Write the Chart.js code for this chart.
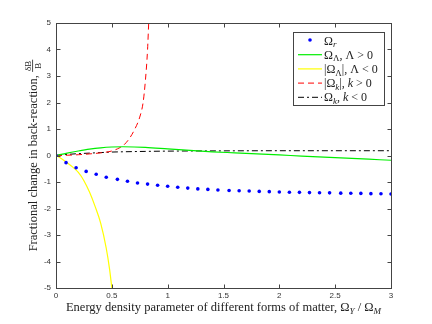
<!DOCTYPE html>
<html>
<head>
<meta charset="utf-8">
<script src="https://cdn.jsdelivr.net/npm/chart.js@4.4.1/dist/chart.umd.min.js"></script>
<style>
  html, body { margin: 0; padding: 0; background: #fff; }
</style>
</head>
<body>
<canvas id="chart" width="432" height="324"></canvas>
<script>
// Omega_r (blue dots)
const radX = [0, 0.09, 0.18, 0.27, 0.36, 0.45, 0.55, 0.64, 0.73, 0.82, 0.91, 1.0, 1.09, 1.18, 1.27, 1.36, 1.45,
  1.55, 1.64, 1.73, 1.82, 1.91, 2.0, 2.09, 2.18, 2.27, 2.36, 2.45, 2.55, 2.64, 2.73, 2.82, 2.91, 3.0];
const radY = [0, -0.27, -0.46, -0.60, -0.71, -0.82, -0.90, -0.97, -1.04, -1.08, -1.12, -1.16, -1.20, -1.23, -1.26,
  -1.28, -1.30, -1.32, -1.33, -1.34, -1.355, -1.365, -1.375, -1.385, -1.39, -1.40, -1.405, -1.41, -1.42, -1.425,
  -1.43, -1.44, -1.445, -1.45];

// Omega_Lambda, Lambda > 0 (green)
const lamPosX = [0, 0.1, 0.2, 0.3, 0.4, 0.5, 0.6, 0.8, 1.0, 1.2, 1.4, 1.6, 1.8, 2.0, 2.2, 2.4, 2.6, 2.8, 3.0];
const lamPosY = [0, 0.09, 0.17, 0.24, 0.29, 0.32, 0.33, 0.31, 0.25, 0.19, 0.14, 0.10, 0.06, 0.02, -0.02, -0.06,
  -0.10, -0.14, -0.18];

// |Omega_Lambda|, Lambda < 0 (yellow)
const lamNegX = [0, 0.05, 0.1, 0.15, 0.2, 0.25, 0.3, 0.35, 0.4, 0.45, 0.48, 0.5];
const lamNegY = [0, -0.12, -0.27, -0.44, -0.64, -0.95, -1.38, -1.92, -2.55, -3.5, -4.3, -5.0];

// |Omega_k|, k > 0 (red dashed)
const kPosX = [0, 0.1, 0.2, 0.3, 0.4, 0.5, 0.55, 0.6, 0.65, 0.7, 0.75, 0.78, 0.8, 0.82, 0.83];
const kPosY = [0, 0.01, 0.03, 0.06, 0.10, 0.17, 0.25, 0.37, 0.60, 0.95, 1.45, 2.0, 2.8, 4.0, 5.0];

// Omega_k, k < 0 (black dash-dot)
const kNegX = [0, 0.1, 0.2, 0.3, 0.4, 0.5, 0.6, 0.8, 1.0, 1.5, 2.0, 2.5, 3.0];
const kNegY = [0, 0.04, 0.07, 0.09, 0.11, 0.13, 0.14, 0.155, 0.165, 0.175, 0.18, 0.18, 0.18];

const yTicks = [-5, -4, -3, -2, -1, 0, 1, 2, 3, 4, 5];
const xTicks = [0, 0.5, 1, 1.5, 2, 2.5, 3];

// legend labels, split in parts so subscripts can be drawn smaller
const legendLabels = [
  [{ t: 'Ω' }, { t: 'r', sub: true, it: true }],
  [{ t: 'Ω' }, { t: 'Λ', sub: true }, { t: ', Λ > 0' }],
  [{ t: '|Ω' }, { t: 'Λ', sub: true }, { t: '|, Λ < 0' }],
  [{ t: '|Ω' }, { t: 'k', sub: true, it: true }, { t: '|, ' }, { t: 'k', it: true }, { t: ' > 0' }],
  [{ t: 'Ω' }, { t: 'k', sub: true, it: true }, { t: ', ' }, { t: 'k', it: true }, { t: ' < 0' }],
];
const xTitle = [{ t: 'Energy density parameter of different forms of matter, Ω' }, { t: 'Y', sub: true, it: true },
  { t: ' / Ω' }, { t: 'M', sub: true, it: true }];
const yTitle = [{ t: 'Fractional change in back-reaction, ' }, { frac: true, num: 'δB', den: 'B' }];

const SERIF = '"Liberation Serif", "DejaVu Serif", serif';

function toPoints(xs, ys) {
  return xs.map((x, i) => ({ x, y: ys[i] }));
}

// helpers for text with subscripts
function partFont(p, size) {
  const s = p.sub || p.frac ? Math.round(size * 0.72) : size;
  return (p.it ? 'italic ' : '') + s + 'px ' + SERIF;
}

function richWidth(ctx, parts, size) {
  let w = 0;
  parts.forEach((p) => {
    ctx.font = partFont(p, size);
    if (p.frac) {
      w += Math.max(ctx.measureText(p.num).width, ctx.measureText(p.den).width) + 2;
    } else {
      w += ctx.measureText(p.t).width;
    }
  });
  return w;
}

function drawRich(ctx, parts, x, y, size) {
  ctx.textBaseline = 'alphabetic';
  ctx.textAlign = 'left';
  let cx = x;
  parts.forEach((p) => {
    ctx.font = partFont(p, size);
    if (p.frac) {
      const w = Math.max(ctx.measureText(p.num).width, ctx.measureText(p.den).width) + 2;
      ctx.textAlign = 'center';
      ctx.fillText(p.num, cx + w / 2, y - size * 0.45);
      ctx.fillText(p.den, cx + w / 2, y + size * 0.35);
      ctx.fillRect(cx, y - size * 0.38, w, 0.8);
      ctx.textAlign = 'left';
      cx += w;
    } else {
      ctx.fillText(p.t, cx, p.sub ? y + size * 0.22 : y);
      cx += ctx.measureText(p.t).width;
    }
  });
}

// frame, inward ticks, titles and legend in the MATLAB style
const matlabFrame = {
  id: 'matlabFrame',
  afterDraw(chart) {
    const ctx = chart.ctx;
    const area = chart.chartArea;
    const xs = chart.scales.x;
    const ys = chart.scales.y;
    const L = Math.round(area.left) + 0.5;
    const R = Math.round(area.right) + 0.5;
    const T = Math.round(area.top) + 0.5;
    const B = Math.round(area.bottom) + 0.5;

    ctx.save();
    ctx.strokeStyle = '#444';
    ctx.lineWidth = 1;
    ctx.setLineDash([]);
    ctx.strokeRect(L, T, R - L, B - T);

    ctx.beginPath();
    yTicks.forEach((v) => {
      const py = Math.round(ys.getPixelForValue(v)) + 0.5;
      ctx.moveTo(L, py); ctx.lineTo(L + 4, py);
      ctx.moveTo(R, py); ctx.lineTo(R - 4, py);
    });
    xTicks.forEach((v) => {
      const px = Math.round(xs.getPixelForValue(v)) + 0.5;
      ctx.moveTo(px, B); ctx.lineTo(px, B - 4);
      ctx.moveTo(px, T); ctx.lineTo(px, T + 4);
    });
    ctx.stroke();

    // axis titles
    ctx.fillStyle = '#222';
    const size = 12.5;
    const xw = richWidth(ctx, xTitle, size);
    drawRich(ctx, xTitle, (area.left + area.right) / 2 - xw / 2, 311, size);

    const yw = richWidth(ctx, yTitle, size);
    ctx.save();
    ctx.translate(37, (area.top + area.bottom) / 2);
    ctx.rotate(-Math.PI / 2);
    drawRich(ctx, yTitle, -yw / 2, 0, size);
    ctx.restore();

    // legend box
    const bx = 293.5, by = 32.5, bw = 91, bh = 73;
    ctx.fillStyle = '#fff';
    ctx.fillRect(bx, by, bw, bh);
    ctx.strokeStyle = '#444';
    ctx.strokeRect(bx, by, bw, bh);

    chart.data.datasets.forEach((ds, i) => {
      const rowY = 40 + i * 14.2;
      if (ds.showLine === false) {
        ctx.fillStyle = ds.pointBackgroundColor;
        ctx.beginPath();
        ctx.arc(310, rowY, ds.pointRadius, 0, Math.PI * 2);
        ctx.fill();
      } else {
        ctx.strokeStyle = ds.borderColor;
        ctx.lineWidth = ds.borderWidth;
        ctx.setLineDash(ds.borderDash || []);
        ctx.beginPath();
        ctx.moveTo(298, rowY + 0.5);
        ctx.lineTo(322, rowY + 0.5);
        ctx.stroke();
        ctx.setLineDash([]);
      }
      ctx.fillStyle = '#222';
      drawRich(ctx, legendLabels[i], 324, rowY + 4.5, 12);
    });
    ctx.restore();
  },
};

const ctx = document.getElementById('chart').getContext('2d');
new Chart(ctx, {
  type: 'line',
  data: {
    datasets: [
      {
        label: 'Omega_r',
        data: toPoints(radX, radY),
        showLine: false,
        pointRadius: 1.8,
        pointBackgroundColor: '#0000ff',
        pointBorderWidth: 0,
        borderColor: '#0000ff',
      },
      {
        label: 'Omega_Lambda, Lambda > 0',
        data: toPoints(lamPosX, lamPosY),
        borderColor: '#00ee00',
        borderWidth: 1.2,
        pointRadius: 0,
        cubicInterpolationMode: 'monotone',
      },
      {
        label: '|Omega_Lambda|, Lambda < 0',
        data: toPoints(lamNegX, lamNegY),
        borderColor: '#ffff00',
        borderWidth: 1.2,
        pointRadius: 0,
        cubicInterpolationMode: 'monotone',
      },
      {
        label: '|Omega_k|, k > 0',
        data: toPoints(kPosX, kPosY),
        borderColor: '#ff0000',
        borderWidth: 1,
        borderDash: [6, 4],
        pointRadius: 0,
        cubicInterpolationMode: 'monotone',
      },
      {
        label: 'Omega_k, k < 0',
        data: toPoints(kNegX, kNegY),
        borderColor: '#000000',
        borderWidth: 1,
        borderDash: [6, 3, 2, 3],
        pointRadius: 0,
        cubicInterpolationMode: 'monotone',
      },
    ],
  },
  options: {
    responsive: false,
    animation: false,
    devicePixelRatio: 1,
    layout: { padding: { left: 0, top: 23, right: 41, bottom: 0 } },
    plugins: {
      legend: { display: false },
      tooltip: { enabled: false },
    },
    scales: {
      x: {
        type: 'linear',
        min: 0,
        max: 3,
        afterFit: (scale) => { scale.height = 36; },
        afterBuildTicks: (scale) => { scale.ticks = xTicks.map((v) => ({ value: v })); },
        grid: { display: false, drawTicks: false },
        border: { display: false },
        ticks: {
          padding: 3,
          color: '#333',
          font: { family: '"Liberation Sans", Arial, sans-serif', size: 8 },
          maxRotation: 0,
          callback: (v) => String(v),
        },
      },
      y: {
        type: 'linear',
        min: -5,
        max: 5,
        afterFit: (scale) => { scale.width = 56; },
        afterBuildTicks: (scale) => { scale.ticks = yTicks.map((v) => ({ value: v })); },
        grid: { display: false, drawTicks: false },
        border: { display: false },
        ticks: {
          padding: 5,
          color: '#333',
          font: { family: '"Liberation Sans", Arial, sans-serif', size: 8 },
          callback: (v) => String(v),
        },
      },
    },
  },
  plugins: [matlabFrame],
});
</script>
</body>
</html>
